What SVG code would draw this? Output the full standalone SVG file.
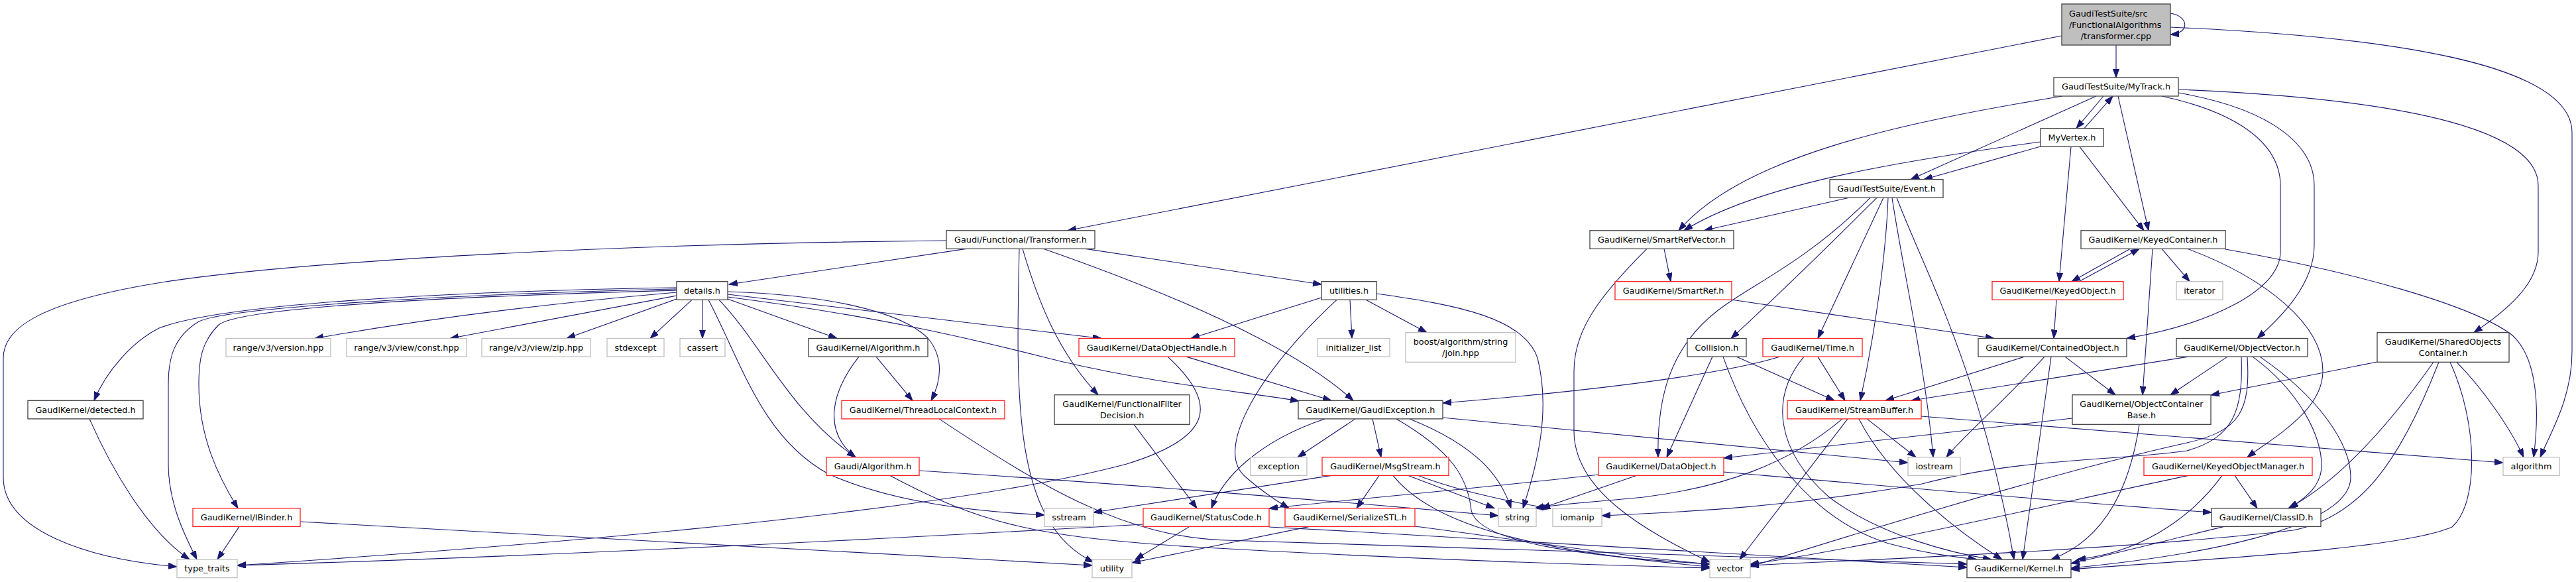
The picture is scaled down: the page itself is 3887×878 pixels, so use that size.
<svg xmlns="http://www.w3.org/2000/svg" width="3887" height="878" viewBox="0 0 3887 878">
<style>
.n rect{fill:#fff;stroke:#404040;stroke-width:1.3}
.r rect{stroke:#ff2020}
.g rect{stroke:#bfbfbf}
.top rect{fill:#bfbfbf}
text{font-family:"DejaVu Sans","Liberation Sans",sans-serif;font-size:12.8px;fill:#000;text-anchor:middle}
text.l{text-anchor:start}
#edges path{fill:none;stroke:#191970;stroke-width:1.1;marker-end:url(#a)}
</style>
<defs>
<marker id="a" markerUnits="userSpaceOnUse" markerWidth="14" markerHeight="10" refX="13" refY="4.6" orient="auto">
<path d="M0,0 L13,4.6 L0,9.2 z" fill="#191970" stroke="#191970" stroke-width="1"/>
</marker>
</defs>
<rect width="3887" height="878" fill="#fff"/>
<g id="edges">
<path d="M3193,68 L3193,117"/>
<path d="M3275,20 C3302,24 3306,50 3275,52"/>
<path d="M3111,54 L1611,347.8"/>
<path d="M3275,41 C3600,55 3881,95 3881,200 L3881,530 C3881,600 3850,650 3833,689.8"/>
<path d="M3174,145 L3133,193.7"/>
<path d="M3145,193.7 L3188,145"/>
<path d="M3163,145 L2883,270.7"/>
<path d="M3112,145 C2870,185 2630,235 2533,347.8"/>
<path d="M3196,145 L3242,347.8"/>
<path d="M3262,145 C3400,175 3441,230 3441,280 L3441,380 C3441,440 3330,490 3209,510.5"/>
<path d="M3287,140 C3430,165 3492,220 3492,280 L3492,370 C3492,430 3440,480 3406,510.5"/>
<path d="M3287,135 C3650,150 3830,200 3830,280 L3830,380 C3830,430 3780,470 3733,501.7"/>
<path d="M3079,221 L2903,270.7"/>
<path d="M3079,214 C2850,245 2650,280 2541,347.8"/>
<path d="M3125,221.3 L3107,424.7"/>
<path d="M3138,221.3 L3235,347.8"/>
<path d="M2790,298.3 L2571,347.8"/>
<path d="M2822,298.3 C2720,400 2640,430 2590,470 C2520,525 2500,600 2502,689.8"/>
<path d="M2832,298.3 C2790,340 2700,430 2612,510.5"/>
<path d="M2842,298.3 L2743,510.5"/>
<path d="M2849,298.3 C2846,380 2830,500 2807,604.3"/>
<path d="M2855,298.3 C2870,400 2905,550 2917,689.8"/>
<path d="M2862,298.3 C2900,400 2990,560 3039,844"/>
<path d="M1458,375.4 L1100,429"/>
<path d="M1638,375.4 L1994,429"/>
<path d="M1428,363 C900,368 450,395 250,425 C60,455 5,495 5,540 L5,720 C5,800 130,843 267,855"/>
<path d="M1538,375.4 C1533,600 1528,790 1650,848"/>
<path d="M1543,375.4 C1565,450 1595,530 1657,595.7"/>
<path d="M1575,375.4 C1760,440 1950,520 2042,604.3"/>
<path d="M1021,441 C800,460 620,485 475,510.5"/>
<path d="M1021,446 L679,510.5"/>
<path d="M1021,451 L855,510.5"/>
<path d="M1044,452.3 L981,510.5"/>
<path d="M1060,452.3 L1060,510.5"/>
<path d="M1098,451 L1263,510.5"/>
<path d="M1021,434 C650,440 330,460 240,495 C200,515 160,560 142,604.3"/>
<path d="M1021,436 C650,445 340,465 300,485 C262,508 254,540 254,580 L254,700 C254,760 280,810 297,844"/>
<path d="M1021,438 C650,448 360,465 330,490 C305,515 300,540 300,580 C300,660 330,720 359,766.8"/>
<path d="M1098,440 C1250,445 1360,470 1400,510 C1425,540 1420,575 1405,604.3"/>
<path d="M1098,444 L1662,510.5"/>
<path d="M1098,448 C1350,480 1500,520 1600,545 C1750,580 1870,590 1960,605"/>
<path d="M1085,452.3 C1150,520 1190,620 1291,689.8"/>
<path d="M1069,452.3 C1120,550 1150,660 1250,715 C1350,760 1480,772 1576,777"/>
<path d="M1322,538.1 L1377,604.3"/>
<path d="M1296,538.1 C1255,590 1240,650 1291,689.8"/>
<path d="M1417,631.9 C1580,740 1700,810 1850,815 C2300,830 2700,845 2968,851"/>
<path d="M1387,710 C1700,730 2000,755 2261,778"/>
<path d="M1343,717.4 C1480,790 1560,810 1800,825 C2150,845 2400,852 2580,857"/>
<path d="M1790,538.1 L2009,604.3"/>
<path d="M1762,538.1 C1840,610 1830,660 1700,700 C1400,780 700,830 358,853"/>
<path d="M1994,449 L1797,510.5"/>
<path d="M2017,452.3 C1900,560 1830,680 1880,720 C1905,742 1925,755 1945,766.8"/>
<path d="M2037,452.3 L2040,510.5"/>
<path d="M2061,452.3 L2153,501.7"/>
<path d="M2077,443 C2200,460 2300,480 2320,540 C2340,620 2320,700 2298,766.8"/>
<path d="M2511,375.4 L2521,424.7"/>
<path d="M2485,375.4 C2410,450 2375,500 2375,560 L2375,650 C2375,740 2480,800 2580,848"/>
<path d="M2612,452 L3009,510.5"/>
<path d="M3214,375.4 L3126,424.7"/>
<path d="M3137,424.7 L3228,375.4"/>
<path d="M3262,375.4 L3304,424.7"/>
<path d="M3248,375.4 L3233,595.7"/>
<path d="M3301,375.4 C3420,420 3505,490 3505,560 C3505,620 3430,660 3391,689.8"/>
<path d="M3358,376 C3550,410 3730,460 3790,505 C3830,540 3832,620 3823,689.8"/>
<path d="M3103,452.3 L3099,510.5"/>
<path d="M3055,538.1 L2845,604.3"/>
<path d="M3085,538.1 C3020,610 2960,660 2937,689.8"/>
<path d="M3095,538.1 L3052,844"/>
<path d="M3116,538.1 L3192,595.7"/>
<path d="M3302,538.1 L2884,604.3"/>
<path d="M3361,538.1 L3275,595.7"/>
<path d="M3382,538.1 C3385,620 3370,660 3300,680 C3200,695 3050,690 2900,730 C2700,765 2550,772 2417,778"/>
<path d="M3391,538.1 C3396,620 3380,650 3300,668 C3100,712 2800,805 2641,855"/>
<path d="M3399,538.1 C3470,590 3505,660 3503,707 C3500,735 3480,750 3455,766.8"/>
<path d="M3410,538.1 C3500,600 3547,670 3547,720 C3547,800 3300,840 3125,857"/>
<path d="M3587,546 L3336,596"/>
<path d="M3672,546.3 C3620,620 3540,720 3453,766.8"/>
<path d="M3680,546.3 C3620,700 3560,780 3460,800 C3200,830 2800,845 2641,853"/>
<path d="M3697,546.3 C3740,640 3740,760 3700,795 C3620,830 3300,845 3125,859"/>
<path d="M3707,546.3 C3750,590 3790,650 3808,689.8"/>
<path d="M3228,640.3 C3210,760 3160,820 3095,844"/>
<path d="M3127,631 L2601,691"/>
<path d="M2817,631.9 L2891,689.8"/>
<path d="M2780,631.9 C2700,700 2600,735 2480,750 C2400,758 2350,760 2316,767"/>
<path d="M2788,631.9 L2625,844"/>
<path d="M2805,631.9 C2850,720 2950,800 3021,844"/>
<path d="M2899,628 C3200,652 3500,676 3777,698"/>
<path d="M2686,538.1 C2600,565 2400,590 2177,608"/>
<path d="M2743,538.1 L2784,604.3"/>
<path d="M2722,538.1 C2670,600 2680,680 2760,750 C2840,810 2950,835 3005,844"/>
<path d="M2584,538.1 L2515,689.8"/>
<path d="M2620,538.1 L2768,604.3"/>
<path d="M2600,538.1 C2640,650 2720,780 2850,820 C2910,836 2950,840 2983,844"/>
<path d="M2469,717.4 L2326,766.8"/>
<path d="M2601,712 C2900,738 3150,760 3337,773"/>
<path d="M2412,716 C2250,735 2050,752 1915,767"/>
<path d="M2045,631.9 L1958,689.8"/>
<path d="M2071,631.9 L2084,689.8"/>
<path d="M1999,631.9 C1900,665 1845,720 1828,766.8"/>
<path d="M2127,631.9 C2230,673 2265,720 2280,766.8"/>
<path d="M2107,631.9 C2190,680 2215,720 2220,770 C2230,820 2400,840 2580,851"/>
<path d="M2177,630 L2879,698"/>
<path d="M2009,717.4 L1650,773"/>
<path d="M2081,717.4 L2047,766.8"/>
<path d="M2125,717.4 L2255,766.8"/>
<path d="M2140,717.4 C2200,740 2280,758 2340,767"/>
<path d="M2102,717.4 C2160,790 2300,830 2580,855"/>
<path d="M1795,794.4 L1713,844"/>
<path d="M1725,791 C1300,815 800,840 358,853"/>
<path d="M1915,795 C2300,815 2700,843 2968,856"/>
<path d="M1976,794.4 L1708,849"/>
<path d="M2135,794 C2300,815 2450,840 2580,851"/>
<path d="M361,794.4 L328,844"/>
<path d="M453,787 C900,810 1300,835 1648,853"/>
<path d="M135,631.9 C165,700 220,800 286,844"/>
<path d="M1711,640.3 L1806,766.8"/>
<path d="M3372,717.4 L3406,766.8"/>
<path d="M3302,717.4 C3100,760 2800,830 2641,851"/>
<path d="M3353,717.4 C3300,790 3220,835 3134,844"/>
<path d="M3356,794.4 C3250,820 3180,838 3125,850"/>
</g>
<g id="n_cpp" class="n top"><rect x="3111" y="6" width="164" height="62"/><text class="l" x="3122" y="24.5">GaudiTestSuite/src</text><text class="l" x="3122" y="41.5">/FunctionalAlgorithms</text><text x="3193" y="58.5">/transformer.cpp</text></g>
<g id="n_MyTrack" class="n"><rect x="3099" y="117" width="188" height="28"/><text x="3193" y="135.3">GaudiTestSuite/MyTrack.h</text></g>
<g id="n_MyVertex" class="n"><rect x="3079" y="193.7" width="95" height="27.6"/><text x="3126.5" y="212">MyVertex.h</text></g>
<g id="n_Event" class="n"><rect x="2761" y="270.7" width="171" height="27.6"/><text x="2846.5" y="289">GaudiTestSuite/Event.h</text></g>
<g id="n_Transformer" class="n"><rect x="1428" y="347.8" width="224" height="27.6"/><text x="1540" y="366.1">Gaudi/Functional/Transformer.h</text></g>
<g id="n_SmartRefVector" class="n"><rect x="2399" y="347.8" width="217" height="27.6"/><text x="2507.5" y="366.1">GaudiKernel/SmartRefVector.h</text></g>
<g id="n_KeyedContainer" class="n"><rect x="3140" y="347.8" width="218" height="27.6"/><text x="3249" y="366.1">GaudiKernel/KeyedContainer.h</text></g>
<g id="n_details" class="n"><rect x="1021" y="424.7" width="77" height="27.6"/><text x="1059.5" y="443">details.h</text></g>
<g id="n_utilities" class="n"><rect x="1994" y="424.7" width="83" height="27.6"/><text x="2035.5" y="443">utilities.h</text></g>
<g id="n_SmartRef" class="n r"><rect x="2437" y="424.7" width="176" height="27.6"/><text x="2525" y="443">GaudiKernel/SmartRef.h</text></g>
<g id="n_KeyedObject" class="n r"><rect x="3006" y="424.7" width="198" height="27.6"/><text x="3105" y="443">GaudiKernel/KeyedObject.h</text></g>
<g id="n_iterator" class="n g"><rect x="3284" y="424.7" width="70" height="27.6"/><text x="3319" y="443">iterator</text></g>
<g id="n_version" class="n g"><rect x="341" y="510.5" width="158" height="27.6"/><text x="420" y="528.8">range/v3/version.hpp</text></g>
<g id="n_const" class="n g"><rect x="523" y="510.5" width="181" height="27.6"/><text x="613.5" y="528.8">range/v3/view/const.hpp</text></g>
<g id="n_zip" class="n g"><rect x="727" y="510.5" width="164" height="27.6"/><text x="809" y="528.8">range/v3/view/zip.hpp</text></g>
<g id="n_stdexcept" class="n g"><rect x="916" y="510.5" width="86" height="27.6"/><text x="959" y="528.8">stdexcept</text></g>
<g id="n_cassert" class="n g"><rect x="1026" y="510.5" width="68" height="27.6"/><text x="1060" y="528.8">cassert</text></g>
<g id="n_GKAlgorithm" class="n"><rect x="1220" y="510.5" width="180" height="27.6"/><text x="1310" y="528.8">GaudiKernel/Algorithm.h</text></g>
<g id="n_DataObjectHandle" class="n r"><rect x="1628" y="510.5" width="235" height="27.6"/><text x="1745.5" y="528.8">GaudiKernel/DataObjectHandle.h</text></g>
<g id="n_initializer_list" class="n g"><rect x="1988" y="510.5" width="109" height="27.6"/><text x="2042.5" y="528.8">initializer_list</text></g>
<g id="n_boost" class="n g"><rect x="2121" y="501.7" width="166" height="44.6"/><text x="2204" y="520">boost/algorithm/string</text><text x="2204" y="537">/join.hpp</text></g>
<g id="n_Collision" class="n"><rect x="2546" y="510.5" width="89" height="27.6"/><text x="2590.5" y="528.8">Collision.h</text></g>
<g id="n_Time" class="n r"><rect x="2660" y="510.5" width="150" height="27.6"/><text x="2735" y="528.8">GaudiKernel/Time.h</text></g>
<g id="n_ContainedObject" class="n"><rect x="2985" y="510.5" width="224" height="27.6"/><text x="3097" y="528.8">GaudiKernel/ContainedObject.h</text></g>
<g id="n_ObjectVector" class="n"><rect x="3284" y="510.5" width="198" height="27.6"/><text x="3383" y="528.8">GaudiKernel/ObjectVector.h</text></g>
<g id="n_SharedObjects" class="n"><rect x="3587" y="501.7" width="199" height="44.6"/><text x="3686.5" y="520">GaudiKernel/SharedObjects</text><text x="3686.5" y="537">Container.h</text></g>
<g id="n_detected" class="n"><rect x="42" y="604.3" width="174" height="27.6"/><text x="129" y="622.6">GaudiKernel/detected.h</text></g>
<g id="n_ThreadLocalContext" class="n r"><rect x="1270" y="604.3" width="246" height="27.6"/><text x="1393" y="622.6">GaudiKernel/ThreadLocalContext.h</text></g>
<g id="n_FunctionalFilterDecision" class="n"><rect x="1591" y="595.7" width="204" height="44.6"/><text x="1693" y="614">GaudiKernel/FunctionalFilter</text><text x="1693" y="631">Decision.h</text></g>
<g id="n_GaudiException" class="n"><rect x="1959" y="604.3" width="218" height="27.6"/><text x="2068" y="622.6">GaudiKernel/GaudiException.h</text></g>
<g id="n_StreamBuffer" class="n r"><rect x="2697" y="604.3" width="202" height="27.6"/><text x="2798" y="622.6">GaudiKernel/StreamBuffer.h</text></g>
<g id="n_ObjectContainerBase" class="n"><rect x="3127" y="595.7" width="209" height="44.6"/><text x="3231.5" y="614">GaudiKernel/ObjectContainer</text><text x="3231.5" y="631">Base.h</text></g>
<g id="n_GaudiAlgorithm" class="n r"><rect x="1247" y="689.8" width="140" height="27.6"/><text x="1317" y="708.1">Gaudi/Algorithm.h</text></g>
<g id="n_exception" class="n g"><rect x="1887" y="689.8" width="85" height="27.6"/><text x="1929.5" y="708.1">exception</text></g>
<g id="n_MsgStream" class="n r"><rect x="1995" y="689.8" width="191" height="27.6"/><text x="2090.5" y="708.1">GaudiKernel/MsgStream.h</text></g>
<g id="n_DataObject" class="n r"><rect x="2412" y="689.8" width="189" height="27.6"/><text x="2506.5" y="708.1">GaudiKernel/DataObject.h</text></g>
<g id="n_iostream" class="n g"><rect x="2879" y="689.8" width="79" height="27.6"/><text x="2918.5" y="708.1">iostream</text></g>
<g id="n_KeyedObjectManager" class="n r"><rect x="3235" y="689.8" width="254" height="27.6"/><text x="3362" y="708.1">GaudiKernel/KeyedObjectManager.h</text></g>
<g id="n_algorithm" class="n g"><rect x="3777" y="689.8" width="85" height="27.6"/><text x="3819.5" y="708.1">algorithm</text></g>
<g id="n_IBinder" class="n r"><rect x="291" y="766.8" width="162" height="27.6"/><text x="372" y="785.1">GaudiKernel/IBinder.h</text></g>
<g id="n_sstream" class="n g"><rect x="1576" y="766.8" width="74" height="27.6"/><text x="1613" y="785.1">sstream</text></g>
<g id="n_StatusCode" class="n r"><rect x="1725" y="766.8" width="190" height="27.6"/><text x="1820" y="785.1">GaudiKernel/StatusCode.h</text></g>
<g id="n_SerializeSTL" class="n r"><rect x="1939" y="766.8" width="196" height="27.6"/><text x="2037" y="785.1">GaudiKernel/SerializeSTL.h</text></g>
<g id="n_string" class="n g"><rect x="2261" y="766.8" width="57" height="27.6"/><text x="2289.5" y="785.1">string</text></g>
<g id="n_iomanip" class="n g"><rect x="2343" y="766.8" width="74" height="27.6"/><text x="2380" y="785.1">iomanip</text></g>
<g id="n_ClassID" class="n"><rect x="3337" y="766.8" width="165" height="27.6"/><text x="3419.5" y="785.1">GaudiKernel/ClassID.h</text></g>
<g id="n_type_traits" class="n g"><rect x="267" y="844" width="91" height="27.6"/><text x="312.5" y="862.3">type_traits</text></g>
<g id="n_utility" class="n g"><rect x="1648" y="844" width="60" height="27.6"/><text x="1678" y="862.3">utility</text></g>
<g id="n_vector" class="n g"><rect x="2580" y="844" width="61" height="27.6"/><text x="2610.5" y="862.3">vector</text></g>
<g id="n_Kernel" class="n"><rect x="2968" y="844" width="157" height="27.6"/><text x="3046.5" y="862.3">GaudiKernel/Kernel.h</text></g>
</svg>
